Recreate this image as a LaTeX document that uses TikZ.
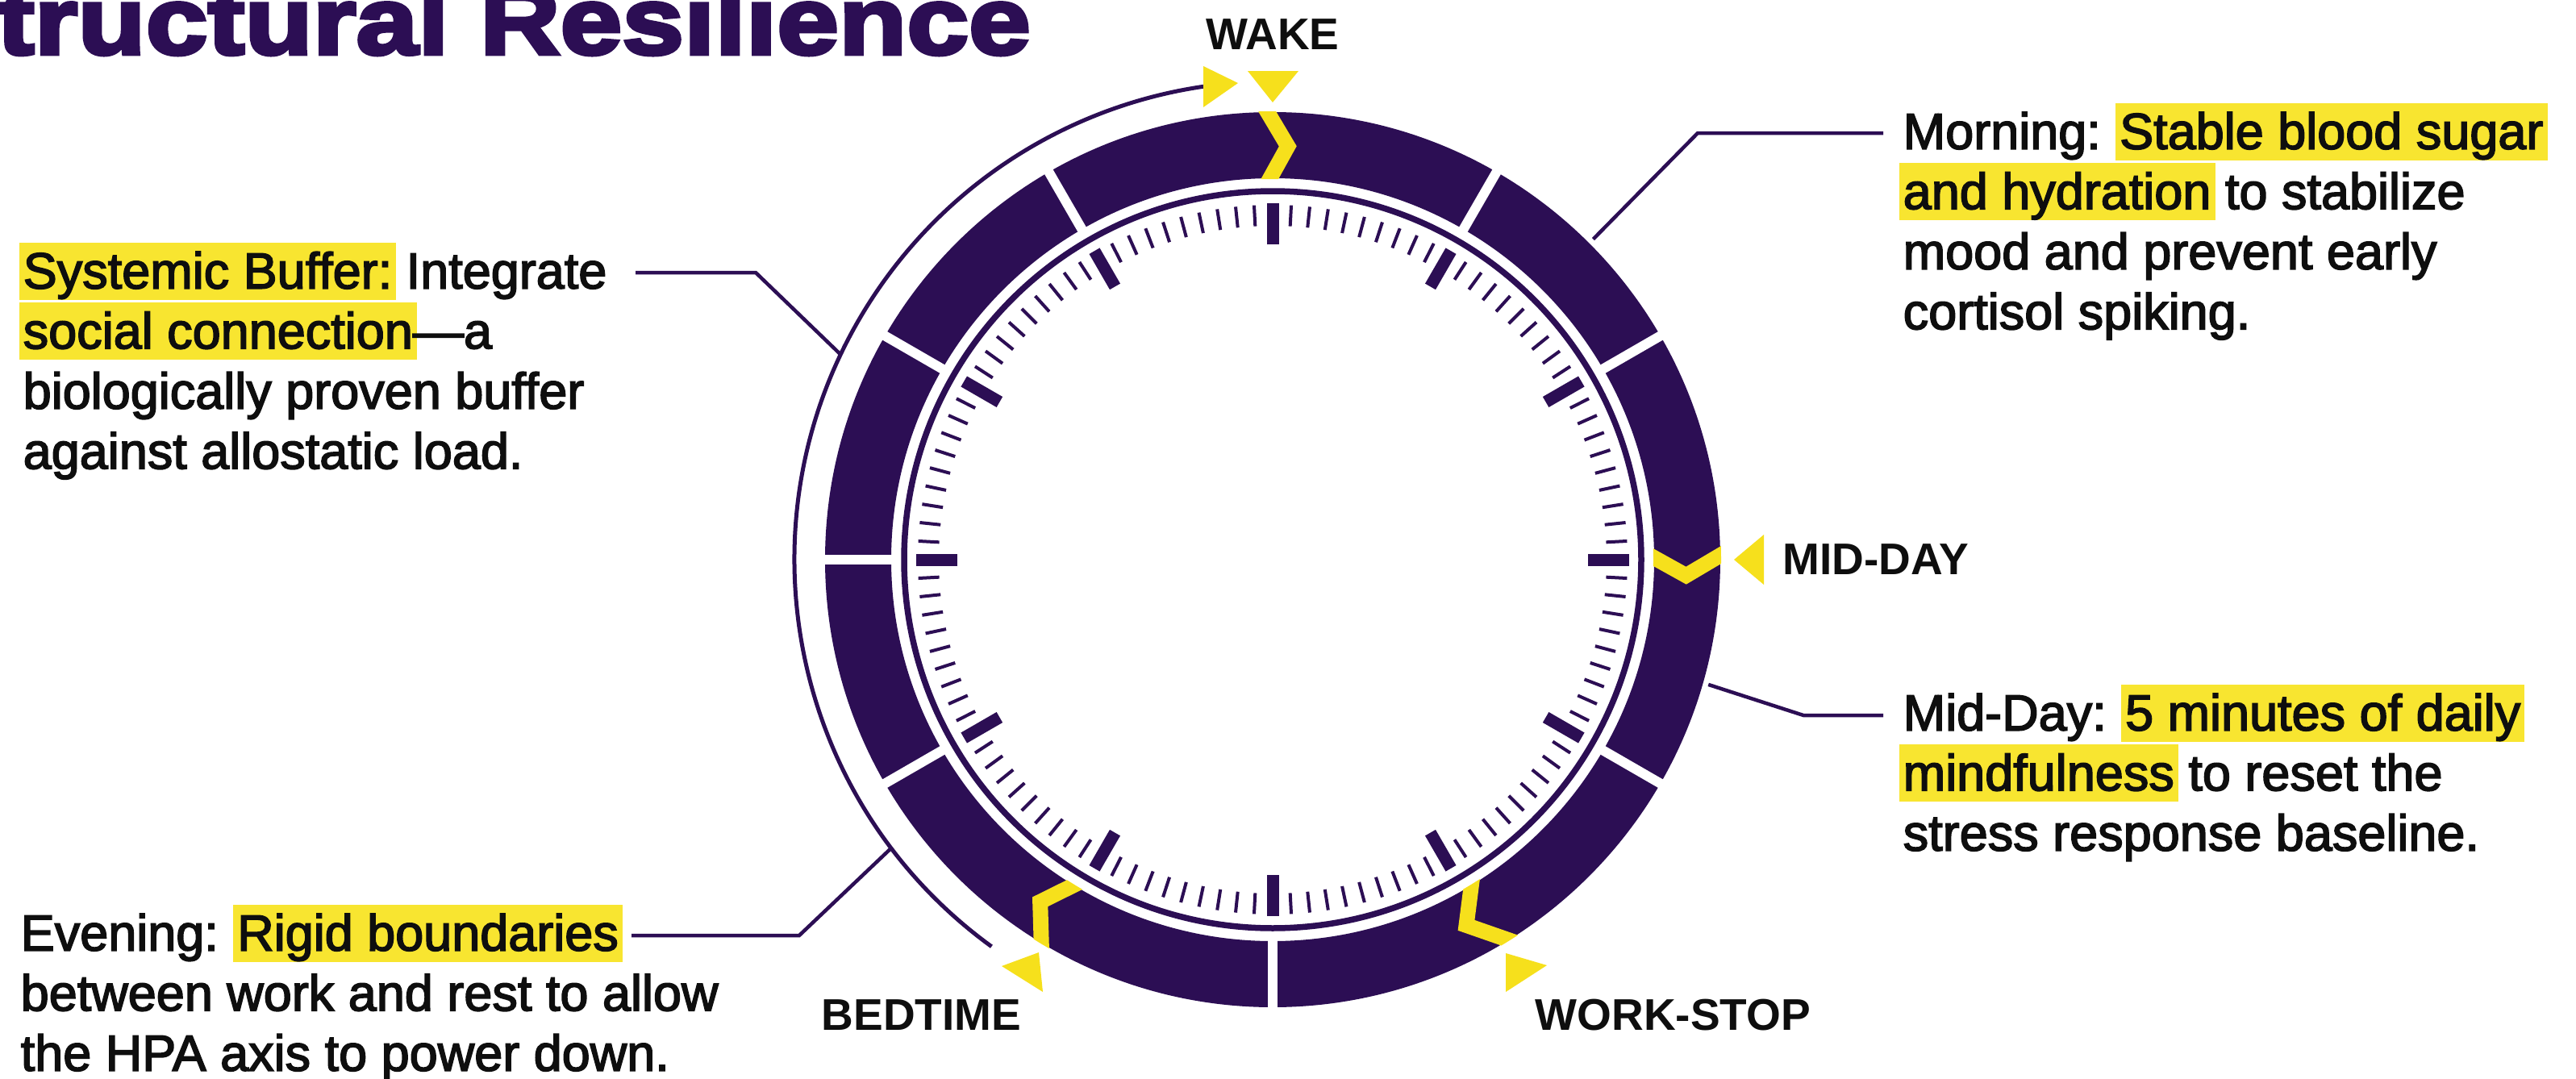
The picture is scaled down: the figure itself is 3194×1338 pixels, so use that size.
\documentclass[tikz,border=0pt]{standalone}
\usepackage{fontspec}
\setmainfont{Liberation Sans}
\newfontfamily\bodyfont[RawFeature={embolden=2.6}]{Liberation Sans}
\newfontfamily\titlefont[FakeStretch=1.17,RawFeature={embolden=4}]{Liberation Sans}
\usetikzlibrary{calc}

\definecolor{ink}{RGB}{44,14,84}
\definecolor{sun}{RGB}{246,224,28}
\definecolor{hlyellow}{RGB}{248,229,48}
\definecolor{txt}{RGB}{14,14,14}

% one drawing unit = 0.1 mm
\newlength\pxu
\setlength\pxu{0.1mm}
% line strut: 57 units above the baseline, 14 below
\newcommand\ls{\rule[-14\pxu]{0pt}{71\pxu}}
% highlighted phrase
\newcommand\hlt[1]{{\setlength{\fboxsep}{0pt}\kern-5\pxu\colorbox{hlyellow}{\kern5\pxu\ls#1\kern5\pxu}\kern-5\pxu}}

\tikzset{
  body/.style={anchor=north west, inner sep=0pt, align=left, text=txt,
    font=\bodyfont\fontsize{6.3mm}{7.1mm}\selectfont},
  tag/.style={inner sep=0pt, text=txt, font=\bfseries\fontsize{5.5mm}{6mm}\selectfont},
  leader/.style={draw=ink, line width=0.45mm, line join=miter},
  tickhi/.style={draw=ink, line width=1.5mm},
  ticklo/.style={draw=ink, line width=0.4mm},
  chev/.style={draw=sun, line width=1.9mm, line join=miter},
  marker/.style={fill=sun},
  gap/.style={draw=white, line width=1.2mm}
}

\begin{document}
\begin{tikzpicture}[x=0.1mm, y=-0.1mm]
\fill[white] (0,0) rectangle (3194,1338);
\useasboundingbox (0,0) rectangle (3194,1338);

% title, cut by the top edge
\node[anchor=base west, inner sep=0pt, text=ink,
      font=\titlefont\bfseries\fontsize{11.8mm}{12mm}\selectfont] (title) at (-4,67) {tructural Resilience};

% ---------------- clock ----------------
\begin{scope}[shift={(1578,694)}]
  % segmented outer band
  \fill[ink, even odd rule] (0,0) circle[radius=555] (0,0) circle[radius=473];
  \foreach \p in {30,60,120,180,240,270,300,330}
    \draw[gap] ({\p-90}:462) -- ({\p-90}:566);
  % transition chevrons
  \begin{scope}[even odd rule]
    \clip (0,0) circle[radius=556] (0,0) circle[radius=472];
    \foreach \e/\k in {-1.3/2.1, 88.8/92.2, 147.3/152.1, 210.4/214.2}
      \draw[chev] ({\e-90}:460) -- ({\k-90}:513) -- ({\e-90}:566);
  \end{scope}
  % inner rim
  \draw[ink, line width=0.75mm] (0,0) circle[radius=457];
  % dial ticks
  \foreach \i in {0,...,119}{
    \pgfmathtruncatemacro\m{mod(\i,10)}
    \ifnum\m=0
      \draw[tickhi] ({\i*3-90}:391) -- ({\i*3-90}:442);
    \else
      \draw[ticklo] ({\i*3-90}:414) -- ({\i*3-90}:440);
    \fi
  }
  % evening-to-wake arc
  \draw[ink, line width=0.5mm] (126:593) arc[start angle=126, end angle=261.7, radius=593];
  \coordinate (arcSB) at (205.4:593);
  \coordinate (arcEV) at (142.9:593);
  \coordinate (ringMO) at (-45:562);
  \coordinate (ringMD) at (16:562);
\end{scope}

% arc arrowhead and phase markers
\fill[marker] (1492,82) -- (1535,103) -- (1492,133) -- cycle;
\fill[marker] (1547,88) -- (1610,88) -- (1578,127) -- cycle;
\fill[marker] (2150,694) -- (2187,663) -- (2187,725) -- cycle;
\fill[marker] (1867,1182) -- (1918,1197) -- (1867,1230) -- cycle;
\fill[marker] (1242,1198) -- (1288,1181) -- (1293,1230) -- cycle;

% phase labels
\node[tag, anchor=base] (wake) at (1578,62) {WAKE};
\node[tag, anchor=base west] (midday) at (2210,712) {MID-DAY};
\node[tag, anchor=base west] (workstop) at (1903,1277) {WORK-STOP};
\node[tag, anchor=base west] (bedtime) at (1018,1277) {BEDTIME};

% notes
\node[body] (sb) at (28,300) {\ls\hlt{Systemic Buffer:} Integrate\\
\ls\hlt{social connection}—a\\
\ls biologically proven buffer\\
\ls against allostatic load.};

\node[body] (mo) at (2359,127) {\ls Morning: \hlt{Stable blood sugar}\\
\ls\hlt{and hydration} to stabilize\\
\ls mood and prevent early\\
\ls cortisol spiking.};

\node[body] (md) at (2359,848) {\ls Mid-Day: \hlt{5 minutes of daily}\\
\ls\hlt{mindfulness} to reset the\\
\ls stress response baseline.};

\node[body] (ev) at (25,1121) {\ls Evening: \hlt{Rigid boundaries}\\
\ls between work and rest to allow\\
\ls the HPA axis to power down.};

% leader lines
\coordinate (sbA) at (788,338);
\coordinate (sbK) at (937,338);
\coordinate (moA) at (2335,165);
\coordinate (moK) at (2105,165);
\coordinate (mdA) at (2335,887);
\coordinate (mdK) at (2236,887);
\coordinate (evA) at (783,1160);
\coordinate (evK) at (991,1160);
\draw[leader] (sbA) -- (sbK) -- (arcSB);
\draw[leader] (moA) -- (moK) -- (ringMO);
\draw[leader] (mdA) -- (mdK) -- (ringMD);
\draw[leader] (evA) -- (evK) -- (arcEV);
\end{tikzpicture}
\end{document}
